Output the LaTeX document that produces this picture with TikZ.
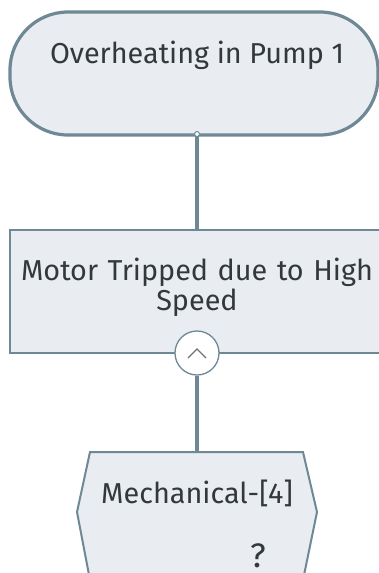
\documentclass[tikz,border=0pt]{standalone}
\usepackage{fontspec}
\setmainfont{Fira Sans}
\definecolor{bord}{HTML}{6E8896}
\definecolor{fillc}{HTML}{E9EDF1}
\definecolor{txt}{HTML}{33383D}
\begin{document}
\begin{tikzpicture}[x=1pt,y=-1pt,
  lbl/.style={text=txt,font=\fontsize{28.8}{30}\selectfont,align=center,inner sep=0},
  conn/.style={draw=bord,line width=3.5pt}]
\useasboundingbox (0,0) rectangle (379,573);
\begin{scope}
\clip (0,0) rectangle (379,573);
% top stadium
\draw[draw=bord,fill=fillc,line width=3.2pt,rounded corners=58pt] (10,12) rectangle (378,135);
\node[lbl,anchor=base] (top) at (197,63) {Overheating in Pump 1};
\coordinate (tb) at (197,134);
% rect
\coordinate (rt) at (197,230);
\draw[conn] (tb) -- (rt);
\draw[draw=bord,fill=fillc,line width=2pt] (10,230) rectangle (381,353);
\node[lbl,anchor=base,text width=370pt] (mid) at (197,280) {Motor Tripped due to High\\Speed};
% gate circle
\node[circle,draw=bord,fill=white,line width=1.3pt,minimum size=44pt,inner sep=0] (gate) at (197,353) {};
\draw[draw=txt!70,line width=1.2pt] (188,358) -- (197,349) -- (206,358);
% hexagon
\coordinate (ht) at (197,452);
\draw[conn] (gate.south) -- (ht);
\draw[draw=bord,fill=fillc,line width=2pt] (90,452) -- (303,452) -- (317,512) -- (303,580) -- (90,580) -- (77,512) -- cycle;
\node[lbl,anchor=base] (mech) at (197,503) {Mechanical-[4]};
\node[lbl,anchor=base,font=\fontsize{34}{34}\selectfont] (q) at (258,567) {?};
% junction dot
\node[circle,draw=bord,fill=white,line width=1pt,minimum size=5pt,inner sep=0] (dot) at (tb) {};
\end{scope}
\end{tikzpicture}
\end{document}
